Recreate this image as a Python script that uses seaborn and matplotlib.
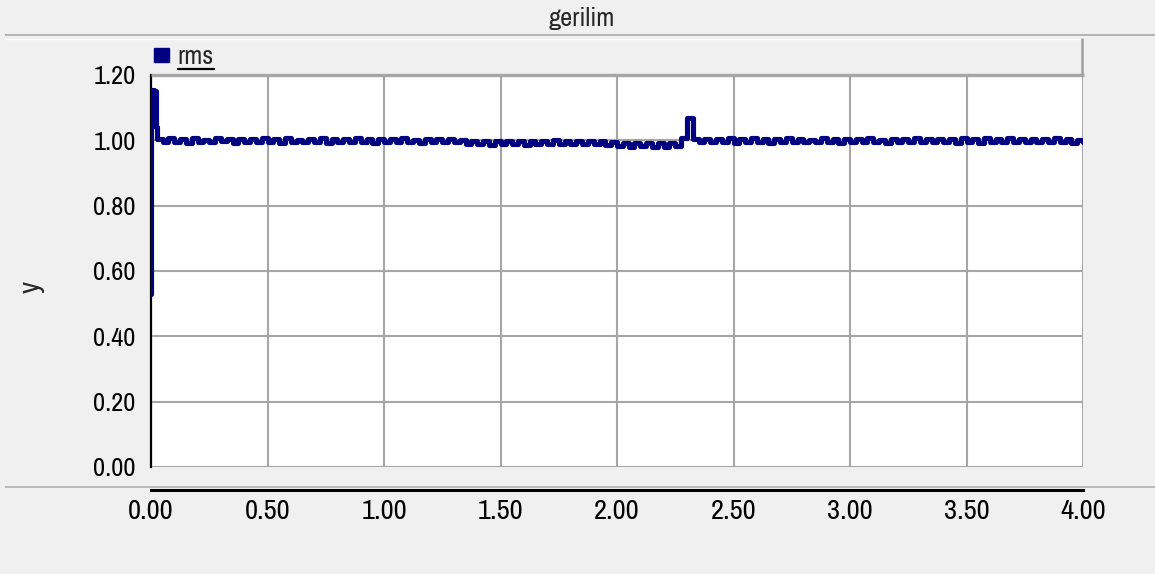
import numpy as np
import pandas as pd
import matplotlib
matplotlib.use("Agg")
import matplotlib.pyplot as plt
from matplotlib.lines import Line2D
from matplotlib.patches import Patch
import seaborn as sns

# ---- data -------------------------------------------------------------
title = "gerilim"
series_name = "rms"
y_axis_label = "y"

x_ticks = [0.0, 0.5, 1.0, 1.5, 2.0, 2.5, 3.0, 3.5, 4.0]
x_tick_labels = ["0.00", "0.50", "1.00", "1.50", "2.00", "2.50", "3.00", "3.50", "4.00"]
y_ticks = [0.0, 0.2, 0.4, 0.6, 0.8, 1.0, 1.2]
y_tick_labels = ["0.00", "0.20", "0.40", "0.60", "0.80", "1.00", "1.20"]

# start-up transient (time in s, rms in pu)
t_start = [0.0, 0.002, 0.014, 0.020]
v_start = [0.53, 1.155, 1.15, 1.04]

# rms samples every 25 ms, 0.025 s ... 4.000 s
v_main = [
    1.004, 0.994, 1.006, 0.996, 1.003, 0.993, 1.007, 0.995, 1.002, 0.994,
    1.006, 0.997, 1.004, 0.993, 1.005, 0.996, 1.003, 0.994, 1.007, 0.995,
    1.004, 0.993, 1.006, 0.996, 1.002, 0.994, 1.005, 0.995, 1.007, 0.993,
    1.004, 0.996, 1.003, 0.994, 1.006, 0.995, 1.004, 0.993, 1.005, 0.996,
    1.003, 0.994, 1.006, 0.995, 1.002, 0.993, 1.005, 0.996, 1.004, 0.994,
    1.003, 0.995, 1.000, 0.990, 0.998, 0.988, 0.997, 0.987, 0.999, 0.988,
    0.998, 0.989, 0.997, 0.987, 0.999, 0.988, 0.998, 0.990, 1.000, 0.989,
    0.998, 0.988, 0.999, 0.990, 0.998, 0.989, 0.997, 0.987, 0.994, 0.983,
    0.992, 0.981, 0.993, 0.982, 0.991, 0.980, 0.993, 0.981, 0.992, 0.982,
    1.008, 1.068, 1.003, 0.996, 1.005, 0.994, 1.004, 0.995, 1.006, 0.993,
    1.004, 0.994, 1.006, 0.996, 1.003, 0.993, 1.005, 0.995, 1.007, 0.994,
    1.004, 0.996, 1.002, 0.994, 1.006, 0.995, 1.004, 0.993, 1.005, 0.996,
    1.003, 0.994, 1.006, 0.995, 1.002, 0.993, 1.005, 0.996, 1.004, 0.994,
    1.006, 0.995, 1.003, 0.994, 1.005, 0.996, 1.004, 0.993, 1.006, 0.995,
    1.004, 0.993, 1.006, 0.996, 1.003, 0.994, 1.007, 0.995, 1.004, 0.994,
    1.005, 0.996, 1.003, 0.994, 1.006, 0.995, 1.004, 0.993, 1.002, 0.996,
]
t_main = list(np.round(np.arange(1, len(v_main) + 1) * 0.025, 3))

df = pd.DataFrame({"t": t_start + t_main, "v": v_start + v_main})

# ---- style ------------------------------------------------------------
sns.set_style("white")
plt.rcParams["font.family"] = ["Archivo Narrow", "Liberation Sans", "DejaVu Sans"]

W, H = 1155, 574
BG = "#f0f0f0"
GRID = "#a6a6a6"
NAVY = "#000080"

fig = plt.figure(figsize=(W / 100, H / 100), dpi=100, facecolor=BG)
L, R, T, B = 151, 1083, 75, 467
ax = fig.add_axes([L / W, 1 - B / H, (R - L) / W, (B - T) / H])
ax.set_facecolor("white")

sns.lineplot(data=df, x="t", y="v", ax=ax, estimator=None, sort=False,
             color=NAVY, linewidth=3.7, drawstyle="steps-post", zorder=3,
             legend=False)

ax.set_xlim(0, 4)
ax.set_ylim(0, 1.2)
ax.set_xticks(x_ticks)
ax.set_xticklabels(x_tick_labels)
ax.set_yticks(y_ticks)
ax.set_yticklabels(y_tick_labels)
ax.set_xlabel("")
ax.set_ylabel("")

ax.grid(True, color=GRID, linewidth=1.5, zorder=1)
ax.set_axisbelow(True)

for s in ("top", "right"):
    ax.spines[s].set_visible(False)
ax.spines["left"].set_color("black")
ax.spines["left"].set_linewidth(1.6)
ax.spines["bottom"].set_position(("outward", 16.5))
ax.spines["bottom"].set_color("black")
ax.spines["bottom"].set_linewidth(2.2)

ax.tick_params(axis="y", direction="out", length=6, width=1.5, color="black",
               pad=5, labelsize=19, labelcolor="black")
ax.tick_params(axis="x", direction="out", length=5, width=1.5, color="black",
               pad=1.5, labelsize=20.5, labelcolor="black")

# frame pieces of the chart panel
def fig_line(x0, x1, y0, y1, color, lw, z=5):
    fig.add_artist(Line2D([x0 / W, x1 / W], [1 - y0 / H, 1 - y1 / H],
                          transform=fig.transFigure, color=color, lw=lw,
                          zorder=z, solid_capstyle="butt"))

fig_line(5, W, 35, 35, "#a8a8a8", 1.2)          # under the title bar
fig_line(5, 1082, 38.5, 38.5, "white", 1.0)
fig_line(L, R + 1, 75, 75, GRID, 2.4)            # top border of plot area
fig_line(1082, 1082, 38, 76, "#a0a0a0", 1.8)    # legend bar right edge
fig_line(5, W, 486.5, 486.5, "#b0b0b0", 1.2)    # separator above x axis

fig.text(582 / W, 1 - 18 / H, title, ha="center", va="center", fontsize=19)
fig.text(31 / W, 1 - 287 / H, y_axis_label, ha="center", va="center",
         rotation=90, fontsize=21)

handle = Patch(facecolor=NAVY, edgecolor=NAVY)
leg = ax.legend([handle], [series_name], loc="center left",
                bbox_to_anchor=(154 / W, 1 - 57 / H),
                bbox_transform=fig.transFigure, frameon=False,
                fontsize=19, handlelength=0.55, handleheight=0.42,
                handletextpad=0.35, borderpad=0, borderaxespad=0)

# underline the legend entry
fig.canvas.draw()
txt = leg.get_texts()[0]
bb = txt.get_window_extent(fig.canvas.get_renderer())
uy = bb.y0 - 1
fig.add_artist(Line2D([bb.x0 / W, bb.x1 / W], [uy / H, uy / H],
                      transform=fig.transFigure, color="black", lw=1.6))

fig.savefig("out.png", dpi=100, facecolor=BG)
